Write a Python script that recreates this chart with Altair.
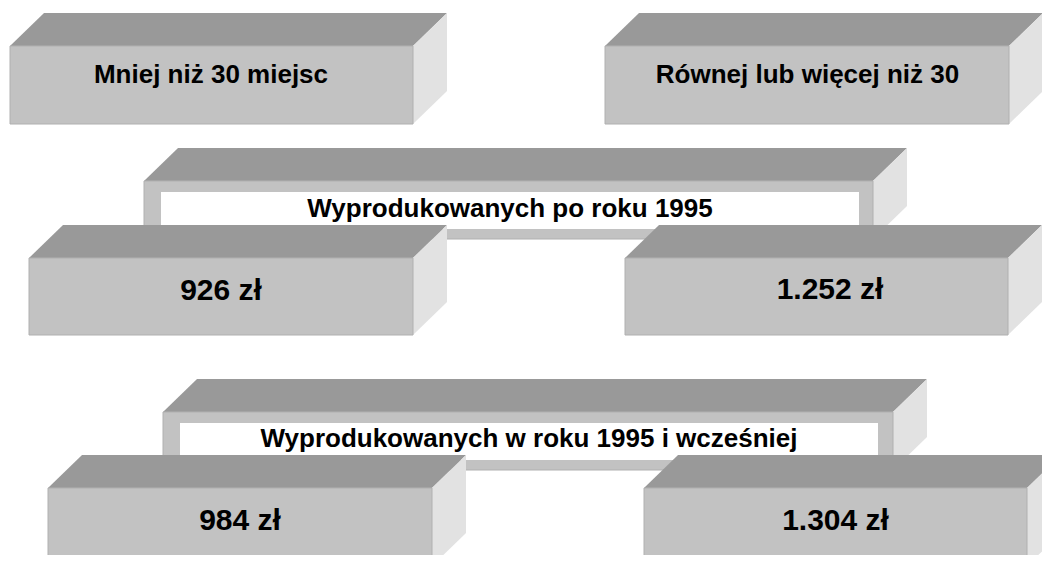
import altair as alt
import pandas as pd

# ---- content ----
column_headers = ["Mniej niż 30 miejsc", "Równej lub więcej niż 30"]
row_headers = ["Wyprodukowanych po roku 1995", "Wyprodukowanych w roku 1995 i wcześniej"]
prices = [[926, 1252], [984, 1304]]  # zł


def fmt_pln(v):
    return f"{v:,}".replace(",", ".") + " zł"


# ---- layout (picture pixel coordinates) ----
W, H = 1034, 547
OFF = 8
DX, DY = 34, 33
TOP_C, SIDE_C, FRONT_C, EDGE_C = "#999999", "#e2e2e2", "#c2c2c2", "#b0b0b0"

# header boxes: left, right, top, bottom, text x, text baseline
header_boxes = [(10, 413, 46, 124, 211, 83), (605, 1009, 46, 124, 807.5, 83)]
# band: left, right, top, bottom, inner l, inner r, inner t, inner b, text x, baseline
bands = [
    (144, 873, 181, 239, 161, 859, 192, 229, 510, 217),
    (163, 893, 412, 470, 180, 878, 423, 460, 529, 447),
]
# value boxes per row
value_boxes = [
    [(29, 413, 258, 335, 221, 300), (625, 1008, 258, 335, 830, 299)],
    [(48, 432, 488, 566, 240, 530), (644, 1027, 488, 566, 835.5, 530)],
]

xs = alt.Scale(domain=[OFF, OFF + W], nice=False, zero=False)
ys = alt.Scale(domain=[OFF, OFF + H], nice=False, zero=False, reverse=True)


def box_layers(L, R, T, B):
    top = pd.DataFrame({
        "x": [L, L + DX, R, R + DX],
        "y": [T, T - DY, T - DY, T - DY],
        "y2": [T, T, T, T - DY],
    })
    side = pd.DataFrame({
        "x": [R, R + DX],
        "y": [T, T - DY],
        "y2": [B, B - DY],
    })
    front = pd.DataFrame({"x": [L], "x2": [R], "y": [T], "y2": [B]})
    enc_a = dict(
        x=alt.X("x:Q", scale=xs, axis=None),
        y=alt.Y("y:Q", scale=ys, axis=None),
        y2=alt.Y2("y2:Q"),
    )
    l_top = alt.Chart(top).mark_area(color=TOP_C, orient="vertical").encode(**enc_a)
    l_side = alt.Chart(side).mark_area(color=SIDE_C, orient="vertical").encode(**enc_a)
    l_front = alt.Chart(front).mark_rect(color=FRONT_C, stroke=EDGE_C, strokeWidth=1).encode(
        x=alt.X("x:Q", scale=xs, axis=None), x2=alt.X2("x2:Q"),
        y=alt.Y("y:Q", scale=ys, axis=None), y2=alt.Y2("y2:Q"),
    )
    return [l_top, l_side, l_front]


def inner_rect(l, r, t, b):
    df = pd.DataFrame({"x": [l], "x2": [r], "y": [t], "y2": [b]})
    return alt.Chart(df).mark_rect(color="white").encode(
        x=alt.X("x:Q", scale=xs, axis=None), x2=alt.X2("x2:Q"),
        y=alt.Y("y:Q", scale=ys, axis=None), y2=alt.Y2("y2:Q"),
    )


def label(text, x, y, size):
    df = pd.DataFrame({"x": [x], "y": [y], "t": [text]})
    return alt.Chart(df).mark_text(
        font="Liberation Sans", fontWeight="bold", fontSize=size,
        align="center", baseline="alphabetic", color="black",
    ).encode(
        x=alt.X("x:Q", scale=xs, axis=None),
        y=alt.Y("y:Q", scale=ys, axis=None),
        text="t:N",
    )


layers = []
for name, (L, R, T, B, tx, ty) in zip(column_headers, header_boxes):
    layers += box_layers(L, R, T, B)
    layers.append(label(name, tx, ty, 26))

for ri, row in enumerate(row_headers):
    L, R, T, B, il, ir, it, ib, tx, ty = bands[ri]
    layers += box_layers(L, R, T, B)
    layers.append(inner_rect(il, ir, it, ib))
    layers.append(label(row, tx, ty, 26))
    for ci, v in enumerate(prices[ri]):
        bL, bR, bT, bB, btx, bty = value_boxes[ri][ci]
        layers += box_layers(bL, bR, bT, bB)
        layers.append(label(fmt_pln(v), btx, bty, 30))

chart = alt.layer(*layers).properties(
    width=W, height=H, padding=0,
    autosize=alt.AutoSizeParams(type="none"),
).configure_view(strokeWidth=0)

chart.save("out.html", embed_options={"renderer": "svg", "actions": False})
